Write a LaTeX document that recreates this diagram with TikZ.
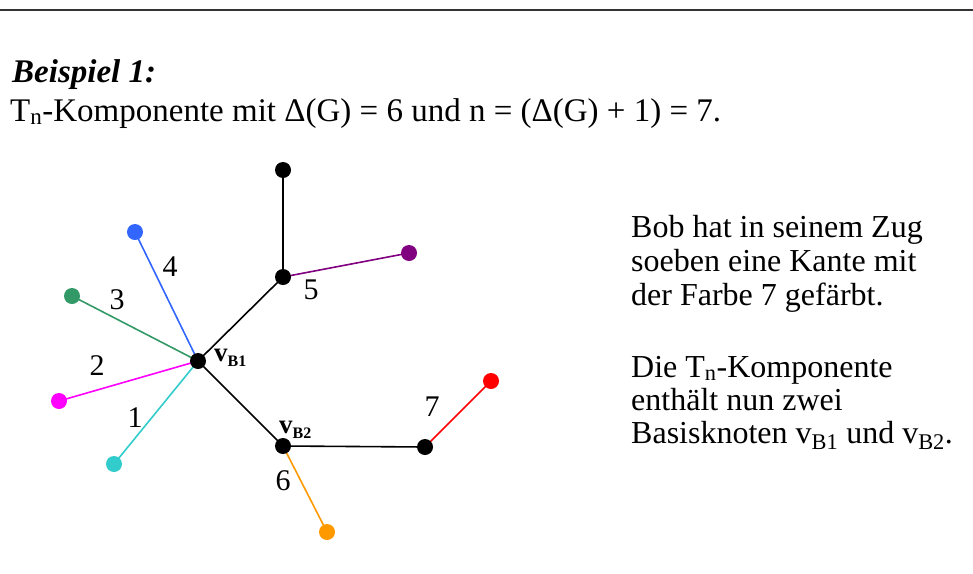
\documentclass[tikz,border=0pt]{standalone}
\usepackage{fontspec}
\setmainfont{Liberation Serif}
\usetikzlibrary{backgrounds}
\definecolor{cblue}{HTML}{3366FF}
\definecolor{cgreen}{HTML}{339966}
\definecolor{cmag}{HTML}{FF00FF}
\definecolor{ccyan}{HTML}{33CCCC}
\definecolor{cpurple}{HTML}{800080}
\definecolor{corange}{HTML}{FF9900}
\definecolor{cred}{HTML}{FF0000}
\definecolor{rule}{HTML}{333333}
\newcommand{\vsub}[1]{v\raisebox{-0.22em}{\fontsize{16}{16}\selectfont #1}}
\tikzset{
  vtx/.style={circle,fill=#1,minimum size=16pt,inner sep=0pt},
  vtx/.default=black,
  edge/.style={line width=1.6pt,draw=#1},
  edge/.default=black,
  elabel/.style={font=\fontsize{30}{34}\selectfont,inner sep=0pt},
  vlabel/.style={font=\fontsize{27}{28}\selectfont\bfseries,inner sep=0pt},
  head/.style={font=\fontsize{33}{38}\selectfont,inner sep=0pt,anchor=base west},
  body/.style={font=\fontsize{32}{34}\selectfont,inner sep=0pt,anchor=base west}
}
\begin{document}
\begin{tikzpicture}[x=1pt,y=-1pt]
\useasboundingbox (0,0) rectangle (973,573);
\draw[rule,line width=2.2pt] (0,10) -- (973,10);
\node[head] (title) at (12,82) {\textbf{\textit{Beispiel 1:}}};
\node[head] (sub) at (10,121) {T\textsubscript{n}-Komponente mit Δ(G) = 6 und n = (Δ(G) + 1) = 7.};
% vertices
\node[vtx] (b1) at (198,361) {};
\node[vtx] (top) at (283,170) {};
\node[vtx] (mid) at (283,277) {};
\node[vtx=cpurple] (pur) at (409,253) {};
\node[vtx=cblue] (blu) at (135,232) {};
\node[vtx=cgreen] (grn) at (72,296) {};
\node[vtx=cmag] (mag) at (59,401) {};
\node[vtx=ccyan] (cya) at (114,464) {};
\node[vtx] (b2) at (283,446) {};
\node[vtx=corange] (ora) at (327,532) {};
\node[vtx] (rgt) at (425,447) {};
\node[vtx=cred] (red) at (491,381) {};
\begin{scope}[on background layer]
\draw[edge] (b1.center) -- (mid.center);
\draw[edge] (mid.center) -- (top.center);
\draw[edge] (b1.center) -- (b2.center);
\draw[edge] (b2.center) -- (rgt.center);
\draw[edge=cpurple] (mid.center) -- (pur.center);
\draw[edge=cblue] (b1.center) -- (blu.center);
\draw[edge=cgreen] (b1.center) -- (grn.center);
\draw[edge=cmag] (b1.center) -- (mag.center);
\draw[edge=ccyan] (b1.center) -- (cya.center);
\draw[edge=corange] (b2.center) -- (ora.center);
\draw[edge=cred] (rgt.center) -- (red.center);
\end{scope}
% labels
\node[elabel] (l4) at (170,267) {4};
\node[elabel] (l3) at (117,300) {3};
\node[elabel] (l5) at (311,290) {5};
\node[elabel] (l2) at (97,366) {2};
\node[elabel] (l1) at (135,418) {1};
\node[elabel] (l6) at (283,481) {6};
\node[elabel] (l7) at (432,407) {7};
\node[vlabel,anchor=base west] (nb1) at (214,361) {\vsub{B1}};
\node[vlabel,anchor=base west] (nb2) at (279,433) {\vsub{B2}};
% right text
\node[body] (t1) at (631,237) {Bob hat in seinem Zug};
\node[body] (t2) at (631,271) {soeben eine Kante mit};
\node[body] (t3) at (631,305) {der Farbe 7 gef\"arbt.};
\node[body] (t4) at (631,377) {Die T\textsubscript{n}-Komponente};
\node[body] (t5) at (631,410) {enth\"alt nun zwei};
\node[body] (t6) at (631,443) {Basisknoten v\textsubscript{B1} und v\textsubscript{B2}.};
\end{tikzpicture}
\end{document}
